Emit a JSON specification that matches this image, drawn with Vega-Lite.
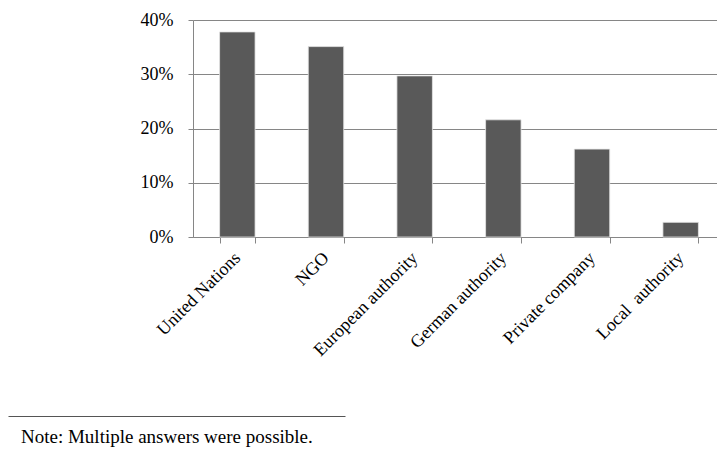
{
  "$schema": "https://vega.github.io/schema/vega-lite/v6.json",
  "padding": {"left": 21, "top": 11, "right": 5, "bottom": 5},
  "width": 532,
  "height": 217,
  "config": {
    "font": "Liberation Serif",
    "view": {"stroke": null},
    "axis": {"labelFont": "Liberation Serif", "titleFont": "Liberation Serif"}
  },
  "layer": [
    {
      "data": {
        "values": [
          {"org": "United Nations", "share": 0.378},
          {"org": "NGO", "share": 0.351},
          {"org": "European authority", "share": 0.297},
          {"org": "German authority", "share": 0.216},
          {"org": "Private company", "share": 0.162},
          {"org": "Local\u00a0 authority", "share": 0.027}
        ]
      },
      "mark": {"type": "bar", "color": "#595959", "stroke": "#e6e6e6", "strokeWidth": 0.8},
      "encoding": {
        "x": {
          "field": "org",
          "type": "nominal",
          "sort": null,
          "scale": {"paddingInner": 0.6, "paddingOuter": 0.3},
          "axis": {
            "title": null,
            "labelAngle": -45,
            "labelAlign": "right",
            "labelBaseline": "middle",
            "labelFontSize": 18,
            "labelColor": "#000000",
            "labelPadding": 12,
            "tickBand": "extent",
            "tickSize": 6,
            "tickColor": "#868686",
            "domainColor": "#868686"
          }
        },
        "y": {
          "field": "share",
          "type": "quantitative",
          "scale": {"domain": [0, 0.4]},
          "axis": {
            "title": null,
            "format": ".0%",
            "values": [0, 0.1, 0.2, 0.3, 0.4],
            "ticks": true,
            "tickSize": 5,
            "tickColor": "#868686",
            "labelFontSize": 18,
            "labelPadding": 15,
            "labelColor": "#000000",
            "gridColor": "#868686",
            "domainColor": "#868686"
          }
        }
      }
    },
    {
      "data": {"values": [{"note": "Note: Multiple answers were possible."}]},
      "mark": {"type": "text", "align": "left", "baseline": "middle", "dx": 13, "fontSize": 19, "color": "#000000"},
      "encoding": {
        "text": {"field": "note"},
        "x": {
          "datum": 0,
          "type": "quantitative",
          "scale": {"domain": [0, 1], "range": [-185, 152]},
          "axis": {"orient": "bottom", "offset": 179, "labels": false, "ticks": false, "grid": false, "title": null, "domainColor": "#555555"}
        },
        "y": {
          "datum": 0,
          "type": "quantitative",
          "scale": {"domain": [0, 1], "range": [417, 0]},
          "axis": null
        }
      }
    }
  ],
  "resolve": {"scale": {"x": "independent", "y": "independent"}}
}
